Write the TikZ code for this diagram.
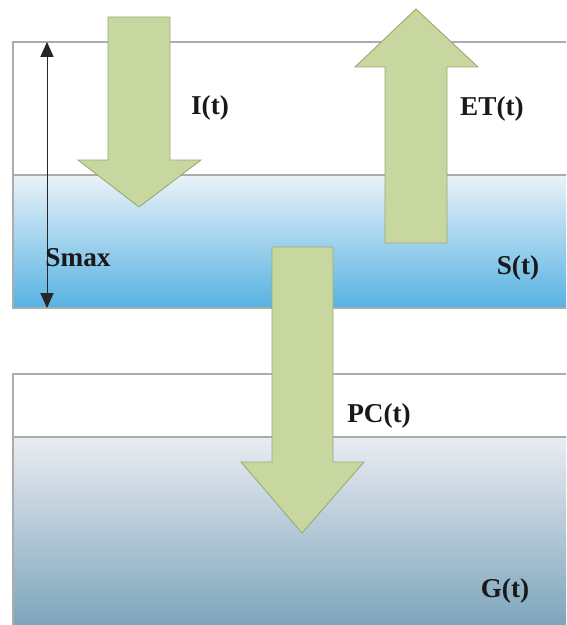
\documentclass[tikz,border=0pt]{standalone}
\usepackage{fontspec}
\setmainfont{Liberation Serif}
\usetikzlibrary{arrows.meta}
\definecolor{LayerLine}{RGB}{172,172,172}
\definecolor{SoilTop}{RGB}{234,242,248}
\definecolor{SoilBottom}{RGB}{86,178,226}
\definecolor{AquiferTop}{RGB}{234,236,242}
\definecolor{AquiferBottom}{RGB}{122,163,186}
\definecolor{FluxFill}{RGB}{200,215,160}
\definecolor{FluxEdge}{RGB}{150,170,115}
\tikzset{
  layer/.style={draw=LayerLine,line width=0.6pt},
  flux/.style={fill=FluxFill,draw=FluxEdge,line width=0.5pt},
  storelabel/.style={font=\bfseries\fontsize{15.5}{18}\selectfont,inner sep=0pt,text=black!90},
  depth/.style={{Triangle[length=8.5pt,width=7.5pt]}-{Triangle[length=8.5pt,width=7.5pt]},
    line width=0.5pt,draw=black!85,fill=black}
}
\begin{document}
\begin{tikzpicture}[x=0.02cm,y=-0.02cm]
  \useasboundingbox[fill=white] (0,0) rectangle (566,625);
  \begin{scope}
    \clip (0,0) rectangle (566,625);
    \shade[top color=SoilTop,bottom color=SoilBottom] (13,175) rectangle (570,308);
    \shade[top color=AquiferTop,bottom color=AquiferBottom] (13,437) rectangle (570,630);
    \draw[layer] (570,42) -- (13,42) -- (13,308) -- (570,308);
    \draw[layer] (13,175) -- (570,175);
    \draw[layer] (570,374) -- (13,374) -- (13,630);
    \draw[layer] (13,437) -- (570,437);
  \end{scope}
  \coordinate (smaxtop) at (47,42);
  \coordinate (smaxbot) at (47,308);
  \draw[depth] (smaxtop) -- (smaxbot);
  \draw[flux] (108,17) -- (170,17) -- (170,160) -- (201,160) -- (139,207)
    -- (78,160) -- (108,160) -- cycle;
  \draw[flux] (385,243) -- (447,243) -- (447,67) -- (478,67) -- (416,9)
    -- (355,67) -- (385,67) -- cycle;
  \draw[flux] (272,247) -- (333,247) -- (333,462) -- (364,462) -- (302,533)
    -- (241,462) -- (272,462) -- cycle;
  \node[storelabel] (infil) at (210,108) {I(t)};
  \node[storelabel] (evap) at (492,109) {ET(t)};
  \node[storelabel] (soil) at (518,268) {S(t)};
  \node[storelabel] (smax) at (78,258) {Smax};
  \node[storelabel] (perc) at (379,416) {PC(t)};
  \node[storelabel] (ground) at (505,591) {G(t)};
\end{tikzpicture}
\end{document}
